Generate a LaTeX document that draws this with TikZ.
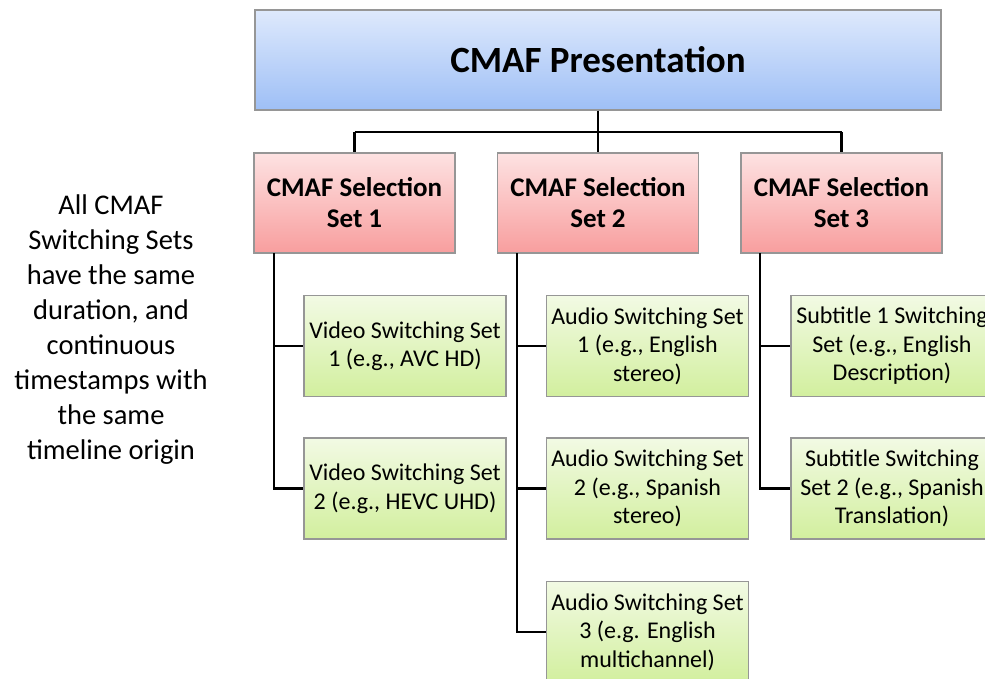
\documentclass[tikz,border=0pt]{standalone}
\usepackage{fontspec}
\setmainfont{Carlito}
\usetikzlibrary{shadings}
\definecolor{bluetop}{RGB}{222,233,252}
\definecolor{bluebot}{RGB}{158,191,246}
\definecolor{pinktop}{RGB}{253,226,226}
\definecolor{pinkbot}{RGB}{248,158,158}
\definecolor{greentop}{RGB}{242,250,228}
\definecolor{greenbot}{RGB}{210,239,158}
\definecolor{boxborder}{RGB}{150,150,150}
\tikzset{
  presbox/.style={draw=boxborder, line width=1.2pt, rectangle, top color=bluetop, bottom color=bluebot,
    minimum width=686pt, minimum height=100pt, inner sep=0pt, align=center,
    font=\fontsize{37}{44}\selectfont\bfseries},
  selbox/.style={draw=boxborder, line width=1.2pt, rectangle, top color=pinktop, bottom color=pinkbot,
    minimum width=201pt, minimum height=100pt, inner sep=0pt, align=center,
    font=\fontsize{27}{31}\selectfont\bfseries},
  swbox/.style={draw=boxborder, line width=1.2pt, rectangle, top color=greentop, bottom color=greenbot,
    minimum width=202pt, minimum height=101pt, inner sep=0pt, align=center,
    font=\fontsize{24}{28.5}\selectfont},
  conn/.style={draw=black, line width=2.3pt},
  note/.style={align=center, font=\fontsize{28.5}{35}\selectfont, inner sep=0pt}
}
\begin{document}
\begin{tikzpicture}[x=1pt,y=-1pt]
\useasboundingbox (0,0) rectangle (985,678);
\clip (0,0) rectangle (985,678);
\coordinate (bus) at (598,132);
\coordinate (busL) at (354.5,132);
\coordinate (busR) at (841.5,132);
\coordinate (v1) at (274,253);
\coordinate (a1) at (517,253);
\coordinate (s1) at (760,253);

\node[presbox] (pres) at (598,60) {CMAF Presentation};
\node[selbox] (sel1) at (354.5,203) {CMAF Selection\\Set 1};
\node[selbox] (sel2) at (598,203) {CMAF Selection\\Set 2};
\node[selbox] (sel3) at (841.5,203) {CMAF Selection\\Set 3};

\node[swbox] (vid1) at (405,346) {Video Switching Set\\1 (e.g., AVC HD)};
\node[swbox] (vid2) at (405,488.5) {Video Switching Set\\2 (e.g., HEVC UHD)};
\node[swbox] (aud1) at (647.5,346) {Audio Switching Set\\1 (e.g., English\\stereo)};
\node[swbox] (aud2) at (647.5,488.5) {Audio Switching Set\\2 (e.g., Spanish\\stereo)};
\node[swbox] (aud3) at (647.5,632) {Audio Switching Set\\3 (e.g. English\\multichannel)};
\node[swbox] (sub1) at (892,346) {Subtitle 1 Switching\\Set (e.g., English\\Description)};
\node[swbox] (sub2) at (892,488.5) {Subtitle Switching\\Set 2 (e.g., Spanish\\Translation)};

\node[note] (note) at (111,330) {All CMAF\\Switching Sets\\have the same\\duration, and\\continuous\\timestamps with\\the same\\timeline origin};

\draw[conn] (pres.south) -- (bus);
\draw[conn] (busL) -- (busR);
\draw[conn] (busL) -- (sel1.north);
\draw[conn] (bus) -- (sel2.north);
\draw[conn] (busR) -- (sel3.north);

\draw[conn] (v1) |- (vid1.west);
\draw[conn] (v1) |- (vid2.west);
\draw[conn] (a1) |- (aud1.west);
\draw[conn] (a1) |- (aud2.west);
\draw[conn] (a1) |- (aud3.west);
\draw[conn] (s1) |- (sub1.west);
\draw[conn] (s1) |- (sub2.west);
\end{tikzpicture}
\end{document}
